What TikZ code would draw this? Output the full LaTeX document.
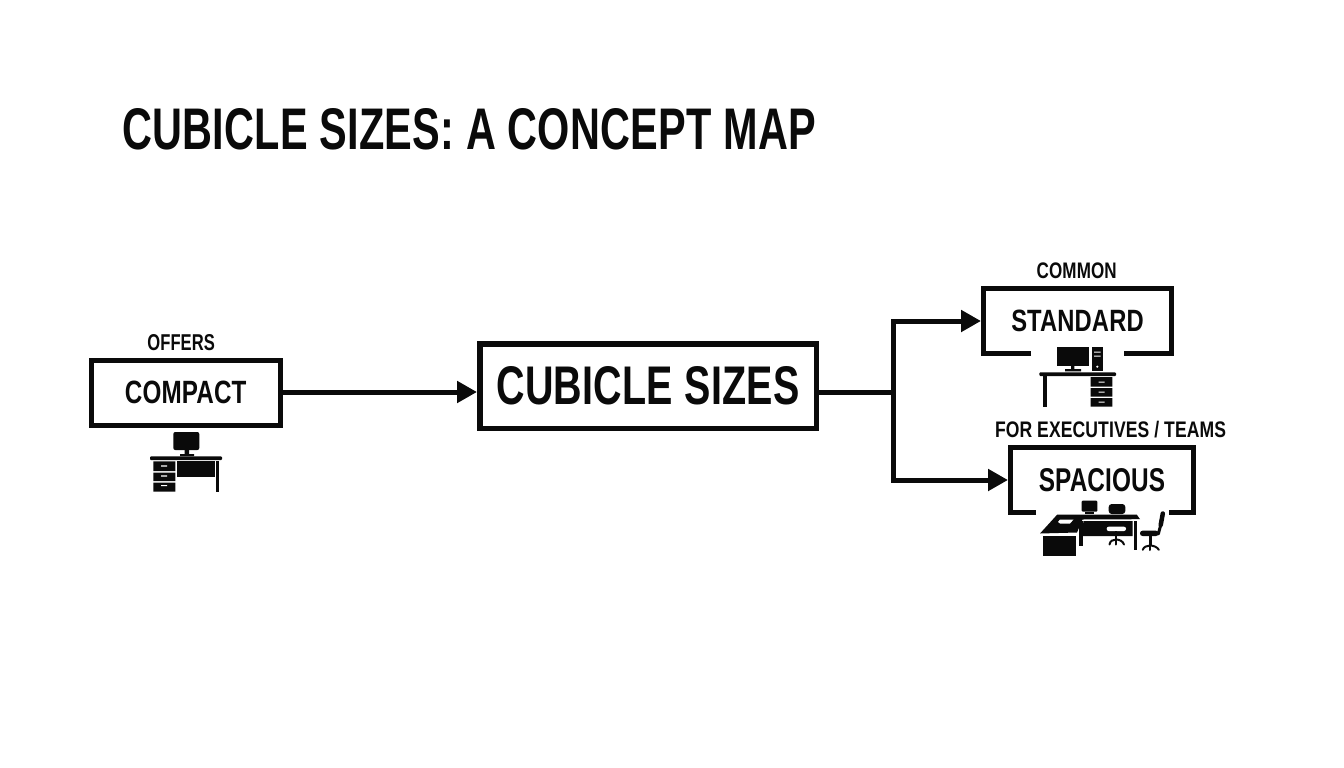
\documentclass[tikz,border=0pt]{standalone}
\usepackage{fontspec}
\usepackage{graphicx}
\setmainfont[LetterSpace=0.6]{Liberation Sans}
\usetikzlibrary{arrows.meta}
\definecolor{ink}{HTML}{0A0A0A}
\newcommand{\fitt}[3]{\resizebox{#1pt}{#2pt}{\bfseries #3}}
\tikzset{
  x=1pt,y=-1pt,
  box/.style={draw=ink,line width=5pt,text=ink,inner sep=0pt,miter limit=10},
  openbox/.style={text=ink,inner sep=0pt,outer sep=2.5pt},
  edgeline/.style={draw=ink,line width=5pt,line join=miter},
  flow/.style={edgeline,-{Triangle[length=20pt,width=21pt]}},
  lab/.style={text=ink,inner sep=0pt,outer sep=0pt,anchor=south west},
  ic/.style={fill=ink,draw=none},
  wh/.style={fill=white,draw=none},
  leg/.style={draw=ink,line width=2pt,line cap=round},
}
\begin{document}
\begin{tikzpicture}
\useasboundingbox (0,0) rectangle (1344,768);
\fill[white] (0,0) rectangle (1344,768);

\node[lab] (title) at (122,150) {\fitt{694}{41}{CUBICLE SIZES: A CONCEPT MAP}};

\node[box,minimum width=189pt,minimum height=65pt] (compact) at (185.7,392.8) {\fitt{121.5}{22.5}{COMPACT}};
\node[box,line width=5.5pt,minimum width=336.5pt,minimum height=84.5pt] (central) at (648,386) {\fitt{303}{38}{CUBICLE SIZES}};
\node[openbox,minimum width=188pt,minimum height=65pt] (standard) at (1077.5,321) {\fitt{132.5}{21.5}{STANDARD}};
\node[openbox,minimum width=183pt,minimum height=65pt] (spacious) at (1102,480) {\fitt{126.5}{23}{SPACIOUS}};

\node[lab] (offers) at (147.3,351) {\fitt{67.7}{16}{OFFERS}};
\node[lab] (common) at (1036.7,279) {\fitt{80}{15.7}{COMMON}};
\node[lab] (forexec) at (995,438) {\fitt{231}{16.3}{FOR EXECUTIVES / TEAMS}};

% open frames
\draw[edgeline] (1031,353.5) -- (983.5,353.5) -- (983.5,288.5) -- (1171.5,288.5) -- (1171.5,353.5) -- (1124,353.5);
\draw[edgeline] (1036,512.5) -- (1010.5,512.5) -- (1010.5,447.5) -- (1193.5,447.5) -- (1193.5,512.5) -- (1169,512.5);

% connectors
\coordinate (junction) at (893,392);
\draw[flow] (compact.east |- 0,392) -- (central.west |- 0,392);
\draw[edgeline] (central.east |- 0,392) -- (junction);
\draw[flow] (junction) |- (standard.west);
\draw[flow] (junction) |- (spacious.west);

% compact desk
\fill[ic,rounded corners=2pt] (173.3,432) rectangle (199.3,450);
\fill[ic] (184.5,450) rectangle (189,454) (180,454) rectangle (194,456);
\fill[ic,rounded corners=1pt] (150,456.3) rectangle (222,460);
\fill[ic] (153.3,461.3) rectangle (175.3,471) (153.3,472.5) rectangle (175.3,481) (153.3,482.5) rectangle (175.3,491.7);
\fill[wh] (161,465.3) rectangle (167,466.5) (161,475.3) rectangle (167,476.5) (161,485) rectangle (167,486.2);
\fill[ic] (176.7,461.3) rectangle (215,476.7);
\fill[ic] (215.7,461) rectangle (219,492);

% standard desk
\fill[ic] (1057,346.7) rectangle (1088.7,365.7);
\fill[ic] (1071,365.7) rectangle (1074.3,369) (1065,369) rectangle (1081,371.3);
\fill[ic] (1092,347) rectangle (1102.7,370.7);
\fill[wh] (1094,351.5) rectangle (1100.7,352.7) (1094,355.5) rectangle (1100.7,356.7);
\fill[wh] (1097.3,366.7) circle (1.2);
\fill[ic,rounded corners=1pt] (1039.3,372.3) rectangle (1116,376);
\fill[ic] (1043.3,376) rectangle (1046.7,407.3);
\fill[ic] (1090.7,377) rectangle (1112.3,386.5) (1090.7,388) rectangle (1112.3,396.5) (1090.7,398) rectangle (1112.3,406.7);
\fill[wh] (1098.5,381.5) rectangle (1104.5,382.7) (1098.5,391.5) rectangle (1104.5,392.7) (1098.5,401.5) rectangle (1104.5,402.7);

% spacious desk
\fill[ic,rounded corners=1pt] (1081.7,500.7) rectangle (1097.3,511.7);
\fill[ic] (1085,511.7) rectangle (1094,514);
\fill[ic,rounded corners=3pt] (1108.7,514) -- (1108.7,504) -- (1125.3,504) -- (1125.3,514) -- cycle;
\fill[ic] (1040,533.5) -- (1057.3,514.5) -- (1136.7,514.5) -- (1140,519.2) -- (1082.5,519.5) -- (1077,532.5) -- cycle;
\fill[wh] (1060,519.5) -- (1063,519.5) -- (1073.5,519.5) -- (1070,523.5) -- (1060,523.5) -- (1058,522) -- cycle;
\fill[ic] (1042.7,536) -- (1075.7,536) -- (1075.7,556) -- (1042.7,556) -- cycle;
\fill[ic] (1079,521) -- (1082.5,521) -- (1082.5,546) -- (1079,546) -- cycle;
\fill[ic] (1083.5,521) -- (1132.7,521) -- (1132.7,536) -- (1081.5,536) -- cycle;
\fill[ic] (1134,521) rectangle (1137,549.5);
\fill[wh,rounded corners=2pt] (1106.7,526.7) rectangle (1126,531);
% front chair
\fill[ic] (1114.8,531) rectangle (1117.4,540);
\draw[leg] (1109.5,544.5) .. controls (1110,541) and (1113,539.5) .. (1116,539.5) .. controls (1119,539.5) and (1123,541) .. (1124,544.5);
\draw[leg] (1116,540) -- (1116,544.5);
% side chair
\fill[ic,rounded corners=2.5pt] (1140,530.7) rectangle (1158.5,536);
\draw[ink,line width=3pt,line cap=round] (1158.3,534) -- (1161,524);
\draw[ink,line width=4.5pt,line cap=round] (1160.7,525) -- (1162.8,513.5);
\fill[ic] (1148.6,536) rectangle (1151.6,546);
\draw[leg] (1142.8,549.8) .. controls (1143.5,547) and (1147,545.5) .. (1150,545.5) .. controls (1153,545.5) and (1157.5,547) .. (1158.8,549.8);
\draw[leg] (1150,546) -- (1150,550);
\end{tikzpicture}
\end{document}
